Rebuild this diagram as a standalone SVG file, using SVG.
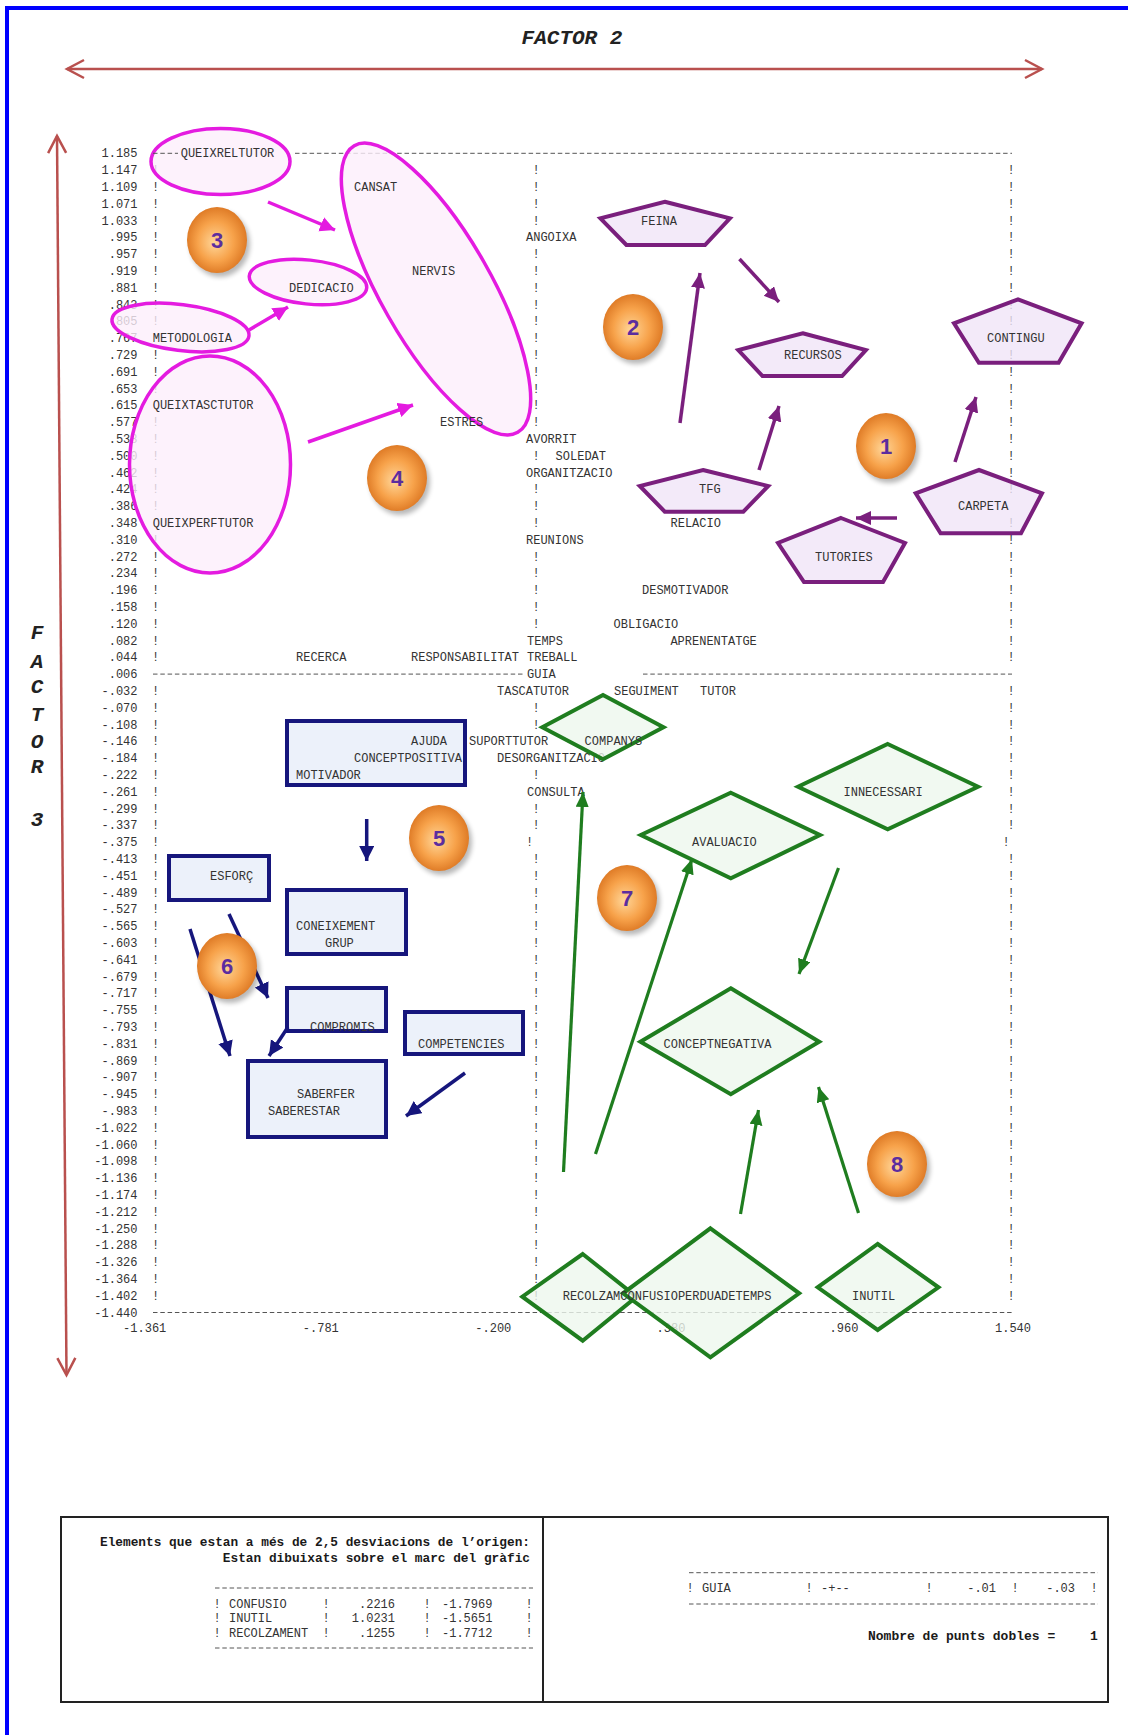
<svg xmlns="http://www.w3.org/2000/svg" width="1128" height="1735" viewBox="0 0 1128 1735">
<style>
.t{font-family:"Liberation Mono","Courier New",monospace;font-size:12px;fill:#333}
.tb{font-family:"Liberation Mono","Courier New",monospace;font-weight:bold;fill:#1a1a1a}
.fx{font-family:"Liberation Mono","Courier New",monospace;font-weight:bold;font-style:italic;font-size:21px;fill:#222}
.dash{stroke:#555;stroke-width:1;stroke-dasharray:4.5 2.8;fill:none}
.ell{fill:#fdeffb;fill-opacity:.8;stroke:#e41be0;stroke-width:3.5}
.pent{fill:#f0e5f7;fill-opacity:.8;stroke:#7a1f7d;stroke-width:4}
.box{fill:#e9eef9;fill-opacity:.85;stroke:#16167c;stroke-width:4}
.dia{fill:#edf8ed;fill-opacity:.8;stroke:#1f7d1f;stroke-width:4}
.am{stroke:#e41be0;stroke-width:3.5;fill:none;marker-end:url(#hm)}
.ap{stroke:#7a1f7d;stroke-width:3.5;fill:none;marker-end:url(#hp)}
.an{stroke:#16167c;stroke-width:3.5;fill:none;marker-end:url(#hn)}
.ag{stroke:#1f7d1f;stroke-width:3.2;fill:none;marker-end:url(#hg)}
.axl{stroke:#b9504e;stroke-width:2.5;fill:none;marker-start:url(#chev);marker-end:url(#chev)}
.num{font-family:"Liberation Sans",Arial,sans-serif;font-weight:bold;font-size:22px;fill:#5b2d9f;text-anchor:middle}
</style>
<defs>
<marker id="hm" markerUnits="userSpaceOnUse" markerWidth="16" markerHeight="16" refX="15" refY="7.5" orient="auto"><path d="M0,0 L15,7.5 L0,15 z" fill="#e41be0"/></marker>
<marker id="hp" markerUnits="userSpaceOnUse" markerWidth="16" markerHeight="16" refX="15" refY="7" orient="auto"><path d="M0,0 L15,7 L0,14 z" fill="#7a1f7d"/></marker>
<marker id="hn" markerUnits="userSpaceOnUse" markerWidth="16" markerHeight="16" refX="15" refY="7.5" orient="auto"><path d="M0,0 L15,7.5 L0,15 z" fill="#16167c"/></marker>
<marker id="hg" markerUnits="userSpaceOnUse" markerWidth="16" markerHeight="16" refX="15" refY="6.5" orient="auto"><path d="M0,0 L15,6.5 L0,13 z" fill="#1f7d1f"/></marker>
<marker id="chev" markerUnits="userSpaceOnUse" markerWidth="24" markerHeight="24" refX="20" refY="11" orient="auto-start-reverse"><path d="M3,2 L20,11 L3,20" fill="none" stroke="#b9504e" stroke-width="2.5"/></marker>
<radialGradient id="og" cx="0.5" cy="0.5" r="0.55" fx="0.45" fy="0.55"><stop offset="0" stop-color="#ffd597"/><stop offset="0.55" stop-color="#f7a24a"/><stop offset="1" stop-color="#d9721e"/></radialGradient>
<filter id="sh" x="-30%" y="-30%" width="160%" height="160%"><feGaussianBlur stdDeviation="2.5"/></filter>
</defs>
<rect width="1128" height="1735" fill="#ffffff"/>
<!-- frame -->
<line x1="7" y1="6" x2="7" y2="1735" stroke="#0000ff" stroke-width="4"/>
<line x1="5" y1="8" x2="1128" y2="8" stroke="#0000ff" stroke-width="4"/>
<!-- factor axes -->
<g id="factor-axes">
<text class="fx" x="572" y="44" text-anchor="middle">FACTOR 2</text>
<line class="axl" x1="67" y1="69" x2="1042" y2="69"/>
<line class="axl" x1="57" y1="136" x2="66.5" y2="1375"/>
<text class="fx" text-anchor="middle" font-size="19"><tspan x="37" y="639">F</tspan><tspan x="37" y="668">A</tspan><tspan x="37" y="693">C</tspan><tspan x="37" y="721">T</tspan><tspan x="37" y="748">O</tspan><tspan x="37" y="773">R</tspan><tspan x="37" y="826">3</tspan></text>
</g>
<!-- printout background -->
<g id="printout">
<text class="t" text-anchor="end"><tspan x="137.5" y="157.3">1.185</tspan><tspan x="137.5" y="174.1">1.147</tspan><tspan x="137.5" y="190.9">1.109</tspan><tspan x="137.5" y="207.7">1.071</tspan><tspan x="137.5" y="224.5">1.033</tspan><tspan x="137.5" y="241.3">.995</tspan><tspan x="137.5" y="258.1">.957</tspan><tspan x="137.5" y="274.9">.919</tspan><tspan x="137.5" y="291.7">.881</tspan><tspan x="137.5" y="308.5">.843</tspan><tspan x="137.5" y="325.3">.805</tspan><tspan x="137.5" y="342.1">.767</tspan><tspan x="137.5" y="358.9">.729</tspan><tspan x="137.5" y="375.7">.691</tspan><tspan x="137.5" y="392.5">.653</tspan><tspan x="137.5" y="409.3">.615</tspan><tspan x="137.5" y="426.1">.577</tspan><tspan x="137.5" y="442.9">.538</tspan><tspan x="137.5" y="459.7">.500</tspan><tspan x="137.5" y="476.5">.462</tspan><tspan x="137.5" y="493.3">.424</tspan><tspan x="137.5" y="510.1">.386</tspan><tspan x="137.5" y="526.9">.348</tspan><tspan x="137.5" y="543.7">.310</tspan><tspan x="137.5" y="560.5">.272</tspan><tspan x="137.5" y="577.3">.234</tspan><tspan x="137.5" y="594.1">.196</tspan><tspan x="137.5" y="610.9">.158</tspan><tspan x="137.5" y="627.7">.120</tspan><tspan x="137.5" y="644.5">.082</tspan><tspan x="137.5" y="661.3">.044</tspan><tspan x="137.5" y="678.1">.006</tspan><tspan x="137.5" y="694.9">-.032</tspan><tspan x="137.5" y="711.7">-.070</tspan><tspan x="137.5" y="728.5">-.108</tspan><tspan x="137.5" y="745.3">-.146</tspan><tspan x="137.5" y="762.1">-.184</tspan><tspan x="137.5" y="778.9">-.222</tspan><tspan x="137.5" y="795.7">-.261</tspan><tspan x="137.5" y="812.5">-.299</tspan><tspan x="137.5" y="829.3">-.337</tspan><tspan x="137.5" y="846.1">-.375</tspan><tspan x="137.5" y="862.9">-.413</tspan><tspan x="137.5" y="879.7">-.451</tspan><tspan x="137.5" y="896.5">-.489</tspan><tspan x="137.5" y="913.3">-.527</tspan><tspan x="137.5" y="930.1">-.565</tspan><tspan x="137.5" y="946.9">-.603</tspan><tspan x="137.5" y="963.7">-.641</tspan><tspan x="137.5" y="980.5">-.679</tspan><tspan x="137.5" y="997.3">-.717</tspan><tspan x="137.5" y="1014.1">-.755</tspan><tspan x="137.5" y="1030.9">-.793</tspan><tspan x="137.5" y="1047.7">-.831</tspan><tspan x="137.5" y="1064.5">-.869</tspan><tspan x="137.5" y="1081.3">-.907</tspan><tspan x="137.5" y="1098.1">-.945</tspan><tspan x="137.5" y="1114.9">-.983</tspan><tspan x="137.5" y="1131.7">-1.022</tspan><tspan x="137.5" y="1148.5">-1.060</tspan><tspan x="137.5" y="1165.3">-1.098</tspan><tspan x="137.5" y="1182.1">-1.136</tspan><tspan x="137.5" y="1198.9">-1.174</tspan><tspan x="137.5" y="1215.7">-1.212</tspan><tspan x="137.5" y="1232.5">-1.250</tspan><tspan x="137.5" y="1249.3">-1.288</tspan><tspan x="137.5" y="1266.1">-1.326</tspan><tspan x="137.5" y="1282.9">-1.364</tspan><tspan x="137.5" y="1299.7">-1.402</tspan><tspan x="137.5" y="1316.5">-1.440</tspan></text>
<text class="t" text-anchor="middle"><tspan x="155.7" y="174.1">!</tspan><tspan x="155.7" y="190.9">!</tspan><tspan x="155.7" y="207.7">!</tspan><tspan x="155.7" y="224.5">!</tspan><tspan x="155.7" y="241.3">!</tspan><tspan x="155.7" y="258.1">!</tspan><tspan x="155.7" y="274.9">!</tspan><tspan x="155.7" y="291.7">!</tspan><tspan x="155.7" y="308.5">!</tspan><tspan x="155.7" y="325.3">!</tspan><tspan x="155.7" y="358.9">!</tspan><tspan x="155.7" y="375.7">!</tspan><tspan x="155.7" y="392.5">!</tspan><tspan x="155.7" y="426.1">!</tspan><tspan x="155.7" y="442.9">!</tspan><tspan x="155.7" y="459.7">!</tspan><tspan x="155.7" y="476.5">!</tspan><tspan x="155.7" y="493.3">!</tspan><tspan x="155.7" y="510.1">!</tspan><tspan x="155.7" y="543.7">!</tspan><tspan x="155.7" y="560.5">!</tspan><tspan x="155.7" y="577.3">!</tspan><tspan x="155.7" y="594.1">!</tspan><tspan x="155.7" y="610.9">!</tspan><tspan x="155.7" y="627.7">!</tspan><tspan x="155.7" y="644.5">!</tspan><tspan x="155.7" y="661.3">!</tspan><tspan x="155.7" y="694.9">!</tspan><tspan x="155.7" y="711.7">!</tspan><tspan x="155.7" y="728.5">!</tspan><tspan x="155.7" y="745.3">!</tspan><tspan x="155.7" y="762.1">!</tspan><tspan x="155.7" y="778.9">!</tspan><tspan x="155.7" y="795.7">!</tspan><tspan x="155.7" y="812.5">!</tspan><tspan x="155.7" y="829.3">!</tspan><tspan x="155.7" y="846.1">!</tspan><tspan x="155.7" y="862.9">!</tspan><tspan x="155.7" y="879.7">!</tspan><tspan x="155.7" y="896.5">!</tspan><tspan x="155.7" y="913.3">!</tspan><tspan x="155.7" y="930.1">!</tspan><tspan x="155.7" y="946.9">!</tspan><tspan x="155.7" y="963.7">!</tspan><tspan x="155.7" y="980.5">!</tspan><tspan x="155.7" y="997.3">!</tspan><tspan x="155.7" y="1014.1">!</tspan><tspan x="155.7" y="1030.9">!</tspan><tspan x="155.7" y="1047.7">!</tspan><tspan x="155.7" y="1064.5">!</tspan><tspan x="155.7" y="1081.3">!</tspan><tspan x="155.7" y="1098.1">!</tspan><tspan x="155.7" y="1114.9">!</tspan><tspan x="155.7" y="1131.7">!</tspan><tspan x="155.7" y="1148.5">!</tspan><tspan x="155.7" y="1165.3">!</tspan><tspan x="155.7" y="1182.1">!</tspan><tspan x="155.7" y="1198.9">!</tspan><tspan x="155.7" y="1215.7">!</tspan><tspan x="155.7" y="1232.5">!</tspan><tspan x="155.7" y="1249.3">!</tspan><tspan x="155.7" y="1266.1">!</tspan><tspan x="155.7" y="1282.9">!</tspan><tspan x="155.7" y="1299.7">!</tspan></text>
<text class="t" text-anchor="middle"><tspan x="536" y="174.1">!</tspan><tspan x="536" y="190.9">!</tspan><tspan x="536" y="207.7">!</tspan><tspan x="536" y="224.5">!</tspan><tspan x="536" y="258.1">!</tspan><tspan x="536" y="274.9">!</tspan><tspan x="536" y="291.7">!</tspan><tspan x="536" y="308.5">!</tspan><tspan x="536" y="325.3">!</tspan><tspan x="536" y="342.1">!</tspan><tspan x="536" y="358.9">!</tspan><tspan x="536" y="375.7">!</tspan><tspan x="536" y="392.5">!</tspan><tspan x="536" y="409.3">!</tspan><tspan x="536" y="426.1">!</tspan><tspan x="536" y="459.7">!</tspan><tspan x="536" y="493.3">!</tspan><tspan x="536" y="510.1">!</tspan><tspan x="536" y="526.9">!</tspan><tspan x="536" y="560.5">!</tspan><tspan x="536" y="577.3">!</tspan><tspan x="536" y="594.1">!</tspan><tspan x="536" y="610.9">!</tspan><tspan x="536" y="627.7">!</tspan><tspan x="536" y="711.7">!</tspan><tspan x="536" y="728.5">!</tspan><tspan x="536" y="778.9">!</tspan><tspan x="536" y="812.5">!</tspan><tspan x="536" y="829.3">!</tspan><tspan x="529.6" y="846.1">!</tspan><tspan x="536" y="862.9">!</tspan><tspan x="536" y="879.7">!</tspan><tspan x="536" y="896.5">!</tspan><tspan x="536" y="913.3">!</tspan><tspan x="536" y="930.1">!</tspan><tspan x="536" y="946.9">!</tspan><tspan x="536" y="963.7">!</tspan><tspan x="536" y="980.5">!</tspan><tspan x="536" y="997.3">!</tspan><tspan x="536" y="1014.1">!</tspan><tspan x="536" y="1030.9">!</tspan><tspan x="536" y="1047.7">!</tspan><tspan x="536" y="1064.5">!</tspan><tspan x="536" y="1081.3">!</tspan><tspan x="536" y="1098.1">!</tspan><tspan x="536" y="1114.9">!</tspan><tspan x="536" y="1131.7">!</tspan><tspan x="536" y="1148.5">!</tspan><tspan x="536" y="1165.3">!</tspan><tspan x="536" y="1182.1">!</tspan><tspan x="536" y="1198.9">!</tspan><tspan x="536" y="1215.7">!</tspan><tspan x="536" y="1232.5">!</tspan><tspan x="536" y="1249.3">!</tspan><tspan x="536" y="1266.1">!</tspan><tspan x="536" y="1282.9">!</tspan><tspan x="536" y="1299.7">!</tspan></text>
<text class="t" text-anchor="middle"><tspan x="1011" y="174.1">!</tspan><tspan x="1011" y="190.9">!</tspan><tspan x="1011" y="207.7">!</tspan><tspan x="1011" y="224.5">!</tspan><tspan x="1011" y="241.3">!</tspan><tspan x="1011" y="258.1">!</tspan><tspan x="1011" y="274.9">!</tspan><tspan x="1011" y="291.7">!</tspan><tspan x="1011" y="308.5">!</tspan><tspan x="1011" y="325.3">!</tspan><tspan x="1011" y="358.9">!</tspan><tspan x="1011" y="375.7">!</tspan><tspan x="1011" y="392.5">!</tspan><tspan x="1011" y="409.3">!</tspan><tspan x="1011" y="426.1">!</tspan><tspan x="1011" y="442.9">!</tspan><tspan x="1011" y="459.7">!</tspan><tspan x="1011" y="476.5">!</tspan><tspan x="1011" y="493.3">!</tspan><tspan x="1011" y="526.9">!</tspan><tspan x="1011" y="543.7">!</tspan><tspan x="1011" y="560.5">!</tspan><tspan x="1011" y="577.3">!</tspan><tspan x="1011" y="594.1">!</tspan><tspan x="1011" y="610.9">!</tspan><tspan x="1011" y="627.7">!</tspan><tspan x="1011" y="644.5">!</tspan><tspan x="1011" y="661.3">!</tspan><tspan x="1011" y="694.9">!</tspan><tspan x="1011" y="711.7">!</tspan><tspan x="1011" y="728.5">!</tspan><tspan x="1011" y="745.3">!</tspan><tspan x="1011" y="762.1">!</tspan><tspan x="1011" y="778.9">!</tspan><tspan x="1011" y="795.7">!</tspan><tspan x="1011" y="812.5">!</tspan><tspan x="1011" y="829.3">!</tspan><tspan x="1006" y="846.1">!</tspan><tspan x="1011" y="862.9">!</tspan><tspan x="1011" y="879.7">!</tspan><tspan x="1011" y="896.5">!</tspan><tspan x="1011" y="913.3">!</tspan><tspan x="1011" y="930.1">!</tspan><tspan x="1011" y="946.9">!</tspan><tspan x="1011" y="963.7">!</tspan><tspan x="1011" y="980.5">!</tspan><tspan x="1011" y="997.3">!</tspan><tspan x="1011" y="1014.1">!</tspan><tspan x="1011" y="1030.9">!</tspan><tspan x="1011" y="1047.7">!</tspan><tspan x="1011" y="1064.5">!</tspan><tspan x="1011" y="1081.3">!</tspan><tspan x="1011" y="1098.1">!</tspan><tspan x="1011" y="1114.9">!</tspan><tspan x="1011" y="1131.7">!</tspan><tspan x="1011" y="1148.5">!</tspan><tspan x="1011" y="1165.3">!</tspan><tspan x="1011" y="1182.1">!</tspan><tspan x="1011" y="1198.9">!</tspan><tspan x="1011" y="1215.7">!</tspan><tspan x="1011" y="1232.5">!</tspan><tspan x="1011" y="1249.3">!</tspan><tspan x="1011" y="1266.1">!</tspan><tspan x="1011" y="1282.9">!</tspan><tspan x="1011" y="1299.7">!</tspan></text>
<line class="dash" x1="295" y1="153.3" x2="1012" y2="153.3"/>
<line class="dash" x1="153" y1="674.1" x2="524" y2="674.1"/>
<line class="dash" x1="643" y1="674.1" x2="1012" y2="674.1"/>
<line class="dash" x1="153" y1="1312.5" x2="1012" y2="1312.5"/>
<text class="t"><tspan x="526" y="241.3">ANGOIXA</tspan><tspan x="526" y="442.9">AVORRIT</tspan><tspan x="555.6" y="459.7">SOLEDAT</tspan><tspan x="526" y="476.5">ORGANITZACIO</tspan><tspan x="670.5" y="526.9">RELACIO</tspan><tspan x="526" y="543.7">REUNIONS</tspan><tspan x="642" y="594.1">DESMOTIVADOR</tspan><tspan x="613.5" y="627.7">OBLIGACIO</tspan><tspan x="527" y="644.5">TEMPS</tspan><tspan x="670.4" y="644.5">APRENENTATGE</tspan><tspan x="296" y="661.3">RECERCA</tspan><tspan x="411" y="661.3">RESPONSABILITAT</tspan><tspan x="527" y="661.3">TREBALL</tspan><tspan x="527" y="678.1">GUIA</tspan><tspan x="497" y="694.9">TASCATUTOR</tspan><tspan x="614" y="694.9">SEGUIMENT</tspan><tspan x="700" y="694.9">TUTOR</tspan><tspan x="469" y="745.3">SUPORTTUTOR</tspan><tspan x="497" y="762.1">DESORGANITZACIO</tspan><tspan x="527" y="795.7">CONSULTA</tspan></text>
<text class="t" text-anchor="middle"><tspan x="144.7" y="1332.3">-1.361</tspan><tspan x="320.8" y="1332.3">-.781</tspan><tspan x="493.3" y="1332.3">-.200</tspan><tspan x="671" y="1332.3">.380</tspan><tspan x="844" y="1332.3">.960</tspan><tspan x="1013" y="1332.3">1.540</tspan></text>
</g>
<!-- nodes: group 3/4 ellipses -->
<g id="n-queixreltutor"><ellipse class="ell" cx="220.5" cy="161.5" rx="69.5" ry="33"/><line class="dash" x1="153" y1="153.3" x2="178" y2="153.3"/><text class="t" x="180.7" y="157.3">QUEIXRELTUTOR</text></g>
<g id="n-dedicacio"><ellipse class="ell" cx="308" cy="282" rx="59" ry="22" transform="rotate(6 308 282)"/><text class="t" x="289" y="291.7">DEDICACIO</text></g>
<g id="n-metodologia"><ellipse class="ell" cx="180.5" cy="327.5" rx="69" ry="23" transform="rotate(7 180.5 327.5)"/><text class="t" x="152.7" y="342.1">METODOLOGIA</text></g>
<g id="n-queixtasc-perf"><ellipse class="ell" cx="210" cy="464.5" rx="80.5" ry="108.5"/><text class="t"><tspan x="152.7" y="409.3">QUEIXTASCTUTOR</tspan><tspan x="152.7" y="526.9">QUEIXPERFTUTOR</tspan></text></g>
<g id="n-cansat-nervis-estres"><ellipse class="ell" cx="436" cy="289" rx="165" ry="55" transform="rotate(60.3 436 289)"/><text class="t"><tspan x="354" y="190.9">CANSAT</tspan><tspan x="412" y="274.9">NERVIS</tspan><tspan x="440" y="426.1">ESTRES</tspan></text></g>
<!-- pentagons -->
<g id="n-feina"><polygon class="pent" points="664.8,201.7 729.9,218.3 705,245 626.4,245 600.4,218.3"/><text class="t" x="641" y="224.5">FEINA</text></g>
<g id="n-recursos"><polygon class="pent" points="802.7,333.3 865.9,350 842.1,376 762.5,376 738.3,350"/><text class="t" x="784" y="358.9">RECURSOS</text></g>
<g id="n-contingu"><polygon class="pent" points="1018,299.3 1081.6,323.3 1058.6,362.7 978.9,362.7 954,323.3"/><text class="t" x="987" y="342.1">CONTINGU</text></g>
<g id="n-tfg"><polygon class="pent" points="703,470 768.2,486 743.3,511.7 664.8,511.7 639.8,486"/><text class="t" x="699" y="493.3">TFG</text></g>
<g id="n-carpeta"><polygon class="pent" points="979,470 1042,493.3 1021,533.3 940.6,533.3 915.7,493.3"/><text class="t" x="958" y="510.1">CARPETA</text></g>
<g id="n-tutories"><polygon class="pent" points="841,518 905,543 883,582 804,582 778,543"/><text class="t" x="815" y="560.5">TUTORIES</text></g>
<!-- rectangles -->
<g id="n-ajuda"><rect class="box" x="287" y="721" width="178" height="64"/><text class="t"><tspan x="411" y="745.3">AJUDA</tspan><tspan x="354" y="762.1">CONCEPTPOSITIVA</tspan><tspan x="296" y="778.9">MOTIVADOR</tspan></text></g>
<g id="n-esforc"><rect class="box" x="169" y="856" width="100" height="44"/><text class="t" x="210" y="879.7">ESFORÇ</text></g>
<g id="n-coneixement"><rect class="box" x="287" y="890" width="119" height="64"/><text class="t"><tspan x="296" y="930.1">CONEIXEMENT</tspan><tspan x="325" y="946.9">GRUP</tspan></text></g>
<g id="n-compromis"><rect class="box" x="287" y="988" width="99" height="43"/><text class="t" x="310" y="1030.9">COMPROMIS</text></g>
<g id="n-competencies"><rect class="box" x="405" y="1012" width="118" height="42"/><text class="t" x="418" y="1047.7">COMPETENCIES</text></g>
<g id="n-saberfer"><rect class="box" x="248" y="1061" width="138" height="76"/><text class="t"><tspan x="297" y="1098.1">SABERFER</tspan><tspan x="268" y="1114.9">SABERESTAR</tspan></text></g>
<!-- diamonds -->
<g id="n-companys"><polygon class="dia" points="603,695 663.5,727.3 603,759.3 542.3,727.3"/><text class="t" x="584.6" y="745.3">COMPANYS</text></g>
<g id="n-innecessari"><polygon class="dia" points="887.7,744 978,786.7 887.7,829.3 798,786.7"/><text class="t" x="843.5" y="795.7">INNECESSARI</text></g>
<g id="n-avaluacio"><polygon class="dia" points="730.8,792.7 820,835 730.8,878.3 640.8,835"/><text class="t" x="692" y="846.1">AVALUACIO</text></g>
<g id="n-conceptnegativa"><polygon class="dia" points="730.8,988.3 819.2,1041.7 730.8,1094.3 640.4,1041.7"/><text class="t" x="663.5" y="1047.7">CONCEPTNEGATIVA</text></g>
<g id="n-recolzament"><polygon class="dia" points="582.7,1254 636.5,1296.7 582.7,1340.7 522.3,1296.7"/></g>
<g id="n-confusio"><polygon class="dia" points="710.4,1228.3 799.2,1293.3 710.4,1357.3 623,1293.3"/><text class="t" x="562.7" y="1299.7">RECOLZAMCONFUSIOPERDUADETEMPS</text></g>
<g id="n-inutil"><polygon class="dia" points="877.7,1244 938.5,1287.3 877.7,1330 817.7,1287.3"/><text class="t" x="852" y="1299.7">INUTIL</text></g>
<!-- connectors -->
<g id="connectors">
<line class="am" x1="268" y1="202" x2="335" y2="230"/>
<line class="am" x1="249" y1="330" x2="288" y2="307"/>
<line class="am" x1="308" y1="442" x2="413" y2="405"/>
<line class="ap" x1="680" y1="423" x2="700" y2="273"/>
<line class="ap" x1="739.5" y1="259" x2="779" y2="302"/>
<line class="ap" x1="759" y1="470" x2="779" y2="406"/>
<line class="ap" x1="955" y1="462" x2="976" y2="397"/>
<line class="ap" x1="897" y1="518" x2="856" y2="518"/>
<line class="an" x1="366.7" y1="819" x2="366.7" y2="861"/>
<line class="an" x1="229" y1="914" x2="268" y2="998"/>
<line class="an" x1="190" y1="929" x2="230" y2="1056"/>
<line class="an" x1="288" y1="1027" x2="269" y2="1056"/>
<line class="an" x1="465" y1="1073" x2="406" y2="1116"/>
<line class="ag" x1="563.5" y1="1172" x2="583" y2="792"/>
<line class="ag" x1="595.5" y1="1154" x2="692" y2="859"/>
<line class="ag" x1="838.5" y1="868" x2="799" y2="974"/>
<line class="ag" x1="740.5" y1="1214" x2="758.5" y2="1110"/>
<line class="ag" x1="858.5" y1="1213" x2="818.5" y2="1087"/>
</g>
<!-- numbered badges -->
<g id="badges">
<g id="b1"><ellipse cx="889" cy="450" rx="30" ry="33" fill="#000" opacity=".28" filter="url(#sh)"/><ellipse cx="886" cy="446" rx="30" ry="33" fill="url(#og)"/><text class="num" x="886" y="454">1</text></g>
<g id="b2"><ellipse cx="636" cy="331" rx="30" ry="33" fill="#000" opacity=".28" filter="url(#sh)"/><ellipse cx="633" cy="327" rx="30" ry="33" fill="url(#og)"/><text class="num" x="633" y="335">2</text></g>
<g id="b3"><ellipse cx="220" cy="244" rx="30" ry="33" fill="#000" opacity=".28" filter="url(#sh)"/><ellipse cx="217" cy="240" rx="30" ry="33" fill="url(#og)"/><text class="num" x="217" y="248">3</text></g>
<g id="b4"><ellipse cx="400" cy="482" rx="30" ry="33" fill="#000" opacity=".28" filter="url(#sh)"/><ellipse cx="397" cy="478" rx="30" ry="33" fill="url(#og)"/><text class="num" x="397" y="486">4</text></g>
<g id="b5"><ellipse cx="442" cy="842" rx="30" ry="33" fill="#000" opacity=".28" filter="url(#sh)"/><ellipse cx="439" cy="838" rx="30" ry="33" fill="url(#og)"/><text class="num" x="439" y="846">5</text></g>
<g id="b6"><ellipse cx="230" cy="970" rx="30" ry="33" fill="#000" opacity=".28" filter="url(#sh)"/><ellipse cx="227" cy="966" rx="30" ry="33" fill="url(#og)"/><text class="num" x="227" y="974">6</text></g>
<g id="b7"><ellipse cx="630" cy="902" rx="30" ry="33" fill="#000" opacity=".28" filter="url(#sh)"/><ellipse cx="627" cy="898" rx="30" ry="33" fill="url(#og)"/><text class="num" x="627" y="906">7</text></g>
<g id="b8"><ellipse cx="900" cy="1168" rx="30" ry="33" fill="#000" opacity=".28" filter="url(#sh)"/><ellipse cx="897" cy="1164" rx="30" ry="33" fill="url(#og)"/><text class="num" x="897" y="1172">8</text></g>
</g>
<!-- bottom table -->
<g id="table">
<rect x="61" y="1517" width="1047" height="185" fill="none" stroke="#222" stroke-width="2"/>
<line x1="543" y1="1517" x2="543" y2="1702" stroke="#222" stroke-width="2"/>
<text class="tb" font-size="12.8" text-anchor="end"><tspan x="530" y="1546">Elements que estan a més de 2,5 desviacions de l’origen:</tspan><tspan x="530" y="1562">Estan dibuixats sobre el marc del gràfic</tspan></text>
<line class="dash" x1="215" y1="1588" x2="533" y2="1588"/>
<line class="dash" x1="215" y1="1648" x2="533" y2="1648"/>
<text class="t" text-anchor="middle"><tspan x="217" y="1608">!</tspan><tspan x="326" y="1608">!</tspan><tspan x="427" y="1608">!</tspan><tspan x="529" y="1608">!</tspan><tspan x="217" y="1622.3">!</tspan><tspan x="326" y="1622.3">!</tspan><tspan x="427" y="1622.3">!</tspan><tspan x="529" y="1622.3">!</tspan><tspan x="217" y="1636.7">!</tspan><tspan x="326" y="1636.7">!</tspan><tspan x="427" y="1636.7">!</tspan><tspan x="529" y="1636.7">!</tspan></text>
<text class="t"><tspan x="229" y="1608">CONFUSIO</tspan><tspan x="229" y="1622.3">INUTIL</tspan><tspan x="229" y="1636.7">RECOLZAMENT</tspan><tspan x="442" y="1608">-1.7969</tspan><tspan x="442" y="1622.3">-1.5651</tspan><tspan x="442" y="1636.7">-1.7712</tspan></text>
<text class="t" text-anchor="end"><tspan x="395" y="1608">.2216</tspan><tspan x="395" y="1622.3">1.0231</tspan><tspan x="395" y="1636.7">.1255</tspan></text>
<line class="dash" x1="689" y1="1572.7" x2="1098" y2="1572.7"/>
<line class="dash" x1="689" y1="1604" x2="1098" y2="1604"/>
<text class="t" text-anchor="middle"><tspan x="690" y="1592.3">!</tspan><tspan x="809" y="1592.3">!</tspan><tspan x="929" y="1592.3">!</tspan><tspan x="1015" y="1592.3">!</tspan><tspan x="1094" y="1592.3">!</tspan></text>
<text class="t"><tspan x="702" y="1592.3">GUIA</tspan><tspan x="821" y="1592.3">-+--</tspan></text>
<text class="t" text-anchor="end"><tspan x="996" y="1592.3">-.01</tspan><tspan x="1075" y="1592.3">-.03</tspan></text>
<text class="tb" font-size="13" x="868" y="1640">Nombre de punts dobles =</text>
<text class="tb" font-size="13" x="1094" y="1640" text-anchor="middle">1</text>
</g>
</svg>
